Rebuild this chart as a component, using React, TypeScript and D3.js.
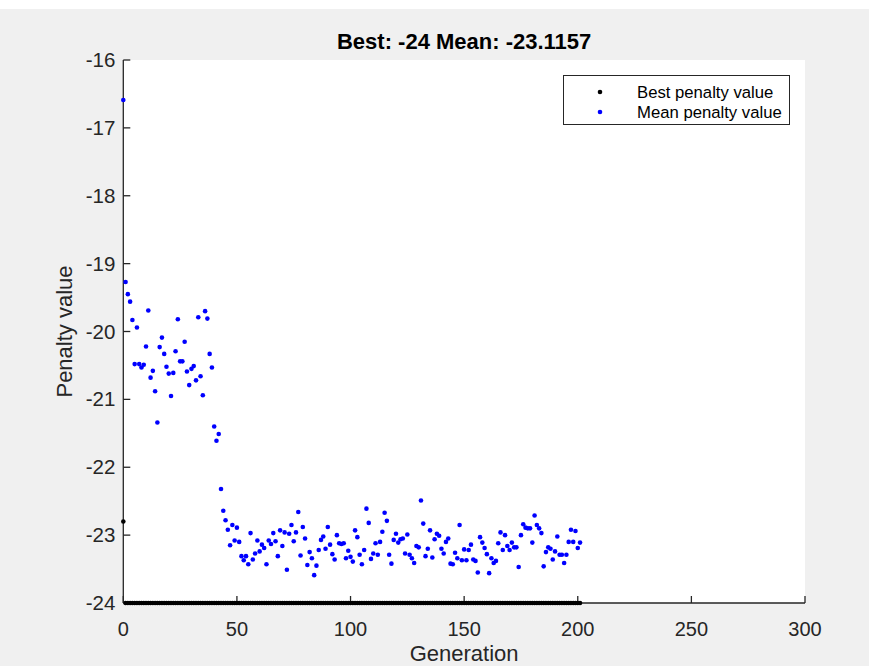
import React from "react";
import * as d3 from "d3";

const titleText = "Best: -24 Mean: -23.1157";
const xLabel = "Generation";
const yLabel = "Penalty value";
const legendLabels = ["Best penalty value", "Mean penalty value"];
const xTicks = [0, 50, 100, 150, 200, 250, 300];
const yTicks = [-24, -23, -22, -21, -20, -19, -18, -17, -16];

const meanPenalty = [
  -16.59, -19.27, -19.45, -19.56, -19.83, -20.48, -19.94, -20.48, -20.53, -20.49,
  -20.22, -19.69, -20.68, -20.58, -20.88, -21.34, -20.23, -20.09, -20.33, -20.52,
  -20.62, -20.95, -20.61, -20.29, -19.82, -20.44, -20.44, -20.15, -20.59, -20.79,
  -20.55, -20.51, -20.72, -19.79, -20.66, -20.94, -19.70, -19.81, -20.33, -20.53,
  -21.40, -21.61, -21.51, -22.32, -22.64, -22.78, -22.92, -23.15, -22.85, -23.08,
  -22.89, -23.10, -23.31, -23.37, -23.31, -23.43, -22.97, -23.36, -23.27, -23.08,
  -23.24, -23.14, -23.19, -23.43, -23.08, -23.13, -22.97, -23.09, -23.31, -22.93,
  -23.16, -22.96, -23.51, -22.98, -22.85, -23.09, -22.96, -22.66, -23.30, -22.88,
  -23.05, -23.44, -23.25, -23.34, -23.59, -23.45, -23.22, -23.07, -23.02, -23.20,
  -22.88, -23.14, -23.28, -23.36, -23.00, -23.12, -23.13, -23.12, -23.34, -23.23,
  -23.32, -23.39, -22.93, -23.03, -23.29, -23.43, -23.22, -22.61, -22.82, -23.35,
  -23.27, -23.12, -23.29, -23.10, -22.95, -22.67, -22.79, -23.29, -23.42, -23.07,
  -22.98, -23.11, -23.06, -23.05, -23.27, -22.99, -23.29, -23.34, -23.41, -23.16,
  -23.18, -22.49, -22.83, -23.31, -23.20, -22.93, -23.33, -23.06, -22.98, -23.01,
  -23.20, -23.27, -23.10, -23.05, -23.42, -23.43, -23.26, -23.34, -22.85, -23.37,
  -23.21, -23.37, -23.22, -23.14, -23.36, -23.38, -23.55, -23.03, -23.11, -23.19,
  -23.28, -23.56, -23.34, -23.41, -23.38, -23.12, -22.96, -23.22, -23.00, -23.16,
  -23.22, -23.11, -23.18, -23.18, -23.47, -23.00, -22.84, -22.89, -22.90, -22.90,
  -23.11, -22.71, -22.85, -22.90, -22.97, -23.46, -23.25, -23.18, -23.20, -23.36,
  -23.24, -23.02, -23.29, -23.29, -23.41, -23.29, -23.10, -22.92, -23.10, -22.94,
  -23.19, -23.11,
];

const bestPenalty = [
  -22.8, -24, -24, -24, -24, -24, -24, -24, -24, -24,
  -24, -24, -24, -24, -24, -24, -24, -24, -24, -24,
  -24, -24, -24, -24, -24, -24, -24, -24, -24, -24,
  -24, -24, -24, -24, -24, -24, -24, -24, -24, -24,
  -24, -24, -24, -24, -24, -24, -24, -24, -24, -24,
  -24, -24, -24, -24, -24, -24, -24, -24, -24, -24,
  -24, -24, -24, -24, -24, -24, -24, -24, -24, -24,
  -24, -24, -24, -24, -24, -24, -24, -24, -24, -24,
  -24, -24, -24, -24, -24, -24, -24, -24, -24, -24,
  -24, -24, -24, -24, -24, -24, -24, -24, -24, -24,
  -24, -24, -24, -24, -24, -24, -24, -24, -24, -24,
  -24, -24, -24, -24, -24, -24, -24, -24, -24, -24,
  -24, -24, -24, -24, -24, -24, -24, -24, -24, -24,
  -24, -24, -24, -24, -24, -24, -24, -24, -24, -24,
  -24, -24, -24, -24, -24, -24, -24, -24, -24, -24,
  -24, -24, -24, -24, -24, -24, -24, -24, -24, -24,
  -24, -24, -24, -24, -24, -24, -24, -24, -24, -24,
  -24, -24, -24, -24, -24, -24, -24, -24, -24, -24,
  -24, -24, -24, -24, -24, -24, -24, -24, -24, -24,
  -24, -24, -24, -24, -24, -24, -24, -24, -24, -24,
  -24, -24,
];

const W = 869;
const H = 666;
const FONT = "'Liberation Sans', Arial, Helvetica, sans-serif";
const AX = "#262626";

export default function App() {
  const x = d3.scaleLinear().domain([0, 300]).range([123.3, 805]);
  const y = d3.scaleLinear().domain([-24, -16]).range([603, 60]);
  const [x0, x1] = x.range();
  const [y0, y1] = y.range();
  const tick = 7;
  const r = 2.3;

  return (
    <svg
      width={W}
      height={H}
      style={{ position: "absolute", left: 0, top: 0 }}
      fontFamily={FONT}
    >
      <rect x={0} y={0} width={W} height={H} fill="#ffffff" />
      <rect x={0} y={9} width={W} height={H - 9} fill="#f0f0f0" />
      <rect x={x0} y={y1} width={x1 - x0} height={y0 - y1} fill="#ffffff" />

      {/* x axis */}
      <line x1={x0} x2={x1} y1={y0} y2={y0} stroke={AX} strokeWidth={1.3} />
      {xTicks.map((t) => (
        <g key={"xt" + t}>
          <line x1={x(t)} x2={x(t)} y1={y0} y2={y0 - tick} stroke={AX} strokeWidth={1.3} />
          <text x={x(t)} y={y0 + 33} textAnchor="middle" fontSize={20} fill={AX}>
            {t}
          </text>
        </g>
      ))}
      {/* y axis */}
      <line x1={x0} x2={x0} y1={y0} y2={y1} stroke={AX} strokeWidth={1.3} />
      {yTicks.map((t) => (
        <g key={"yt" + t}>
          <line x1={x0} x2={x0 + tick} y1={y(t)} y2={y(t)} stroke={AX} strokeWidth={1.3} />
          <text x={x0 - 8} y={y(t) + 7} textAnchor="end" fontSize={20.5} fill={AX}>
            {t}
          </text>
        </g>
      ))}

      {/* best */}
      {bestPenalty.map((v, i) => (
        <circle key={"b" + i} cx={x(i)} cy={y(v)} r={r} fill="#000000" />
      ))}
      {/* mean */}
      {meanPenalty.map((v, i) => (
        <circle key={"m" + i} cx={x(i)} cy={y(v)} r={r} fill="#0000ff" />
      ))}

      <text x={(x0 + x1) / 2} y={49} textAnchor="middle" fontSize={22} fontWeight="bold" fill="#000">
        {titleText}
      </text>
      <text x={(x0 + x1) / 2} y={661} textAnchor="middle" fontSize={22} fill={AX}>
        {xLabel}
      </text>
      <text
        transform={`translate(72, ${(y0 + y1) / 2}) rotate(-90)`}
        textAnchor="middle"
        fontSize={22}
        fill={AX}
      >
        {yLabel}
      </text>

      {/* legend */}
      <g>
        <rect x={563.5} y={75.5} width={226} height={49} fill="#ffffff" stroke={AX} strokeWidth={1} />
        <circle cx={600} cy={92} r={r} fill="#000000" />
        <text x={637} y={97.5} fontSize={16.7} fill="#000">
          {legendLabels[0]}
        </text>
        <circle cx={600} cy={112} r={r} fill="#0000ff" />
        <text x={637} y={118} fontSize={16.7} fill="#000">
          {legendLabels[1]}
        </text>
      </g>
    </svg>
  );
}
